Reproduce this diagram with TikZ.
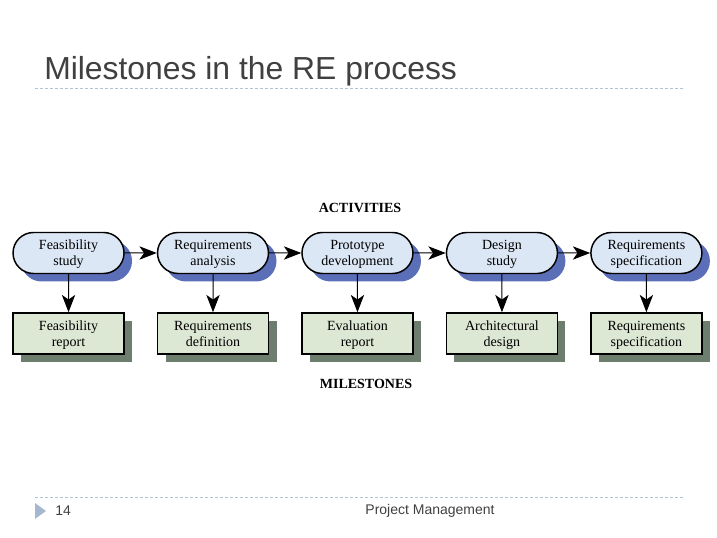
\documentclass[tikz,border=0pt]{standalone}
\usepackage{fontspec}
\setmainfont{Liberation Serif}
\newfontfamily\slidefont{Liberation Sans}
\usetikzlibrary{shapes,arrows.meta,calc,positioning,shadows}

\definecolor{actfill}{HTML}{DCE7F5}
\definecolor{actshadow}{HTML}{5B6FB8}
\definecolor{msfill}{HTML}{DCE7D4}
\definecolor{msshadow}{HTML}{6E7E6E}
\definecolor{slidegray}{HTML}{404040}
\definecolor{rulecolor}{HTML}{B4C3D2}
\definecolor{bulletcolor}{HTML}{A5B8CF}

\begin{document}
\begin{tikzpicture}[
activity/.style={rounded rectangle,draw,line width=1.1pt,fill=actfill,minimum width=83.25pt,minimum height=30.75pt,inner sep=0pt,align=center,font=\fontsize{10.5}{12}\selectfont,
  text height=21pt,text depth=1.8pt,
  drop shadow={shadow xshift=6pt,shadow yshift=-6pt,fill=actshadow,opacity=1}},
milestone/.style={rectangle,draw,line width=1.1pt,fill=msfill,minimum width=83.25pt,minimum height=30.75pt,inner sep=0pt,align=center,font=\fontsize{10.5}{12}\selectfont,
  text height=21pt,text depth=1.8pt,
  drop shadow={shadow xshift=6pt,shadow yshift=-6pt,fill=msshadow,opacity=1}},
flow/.style={line width=0.75pt,-{Stealth[length=13pt,width=10pt,inset=3.5pt]}},
heading/.style={font=\bfseries\fontsize{10.5}{12}\selectfont},
rule/.style={rulecolor,line width=0.75pt,dash pattern=on 2.25pt off 1.5pt},
node distance=24pt]

        \useasboundingbox (0,0) rectangle (537.75pt,403.5pt);

        % slide frame
        \node [anchor=base west,inner sep=0pt,text=slidegray,font=\slidefont\fontsize{23.9}{28}\selectfont] (title) at (33pt,343.5pt) {Milestones in the RE process};
        \draw [rule] (26.25pt,336.75pt) -- (512.25pt,336.75pt);
        \draw [rule] (26.25pt,30pt) -- (512.25pt,30pt);
        \fill [bulletcolor] (26.25pt,26.25pt) -- (34.5pt,20.25pt) -- (26.25pt,14.25pt) -- cycle;
        \node [anchor=west,inner sep=0pt,text=slidegray,font=\slidefont\fontsize{10.5}{12}\selectfont] (page) at (41.25pt,20.25pt) {14};
        \node [inner sep=0pt,text=slidegray,font=\slidefont\fontsize{10.5}{12}\selectfont] (footer) at (322.5pt,20.25pt) {Project Management};

        % activities
        \node [heading] (acts) at (270pt,247.5pt) {ACTIVITIES};
        \node [activity] (feas) at (51.4pt,213.75pt) {Feasibility\\study};
        \node [activity, right = of feas] (reqan) {Requirements\\analysis};
        \node [activity, right = of reqan] (proto) {Prototype\\development};
        \node [activity, right = of proto] (design) {Design\\study};
        \node [activity, right = of design] (reqspec) {Requirements\\specification};

        % milestones
        \node [milestone, below = 28.5pt of feas] (feasrep) {Feasibility\\report};
        \node [milestone, below = 28.5pt of reqan] (reqdef) {Requirements\\definition};
        \node [milestone, below = 28.5pt of proto] (evalrep) {Evaluation\\report};
        \node [milestone, below = 28.5pt of design] (arch) {Architectural\\design};
        \node [milestone, below = 28.5pt of reqspec] (specdoc) {Requirements\\specification};
        \node [heading] (mss) at (274.5pt,115.5pt) {MILESTONES};

        \draw [flow] (feas) -- (reqan);
        \draw [flow] (reqan) -- (proto);
        \draw [flow] (proto) -- (design);
        \draw [flow] (design) -- (reqspec);

        \draw [flow] (feas) -- (feasrep);
        \draw [flow] (reqan) -- (reqdef);
        \draw [flow] (proto) -- (evalrep);
        \draw [flow] (design) -- (arch);
        \draw [flow] (reqspec) -- (specdoc);
    \end{tikzpicture}
\end{document}
